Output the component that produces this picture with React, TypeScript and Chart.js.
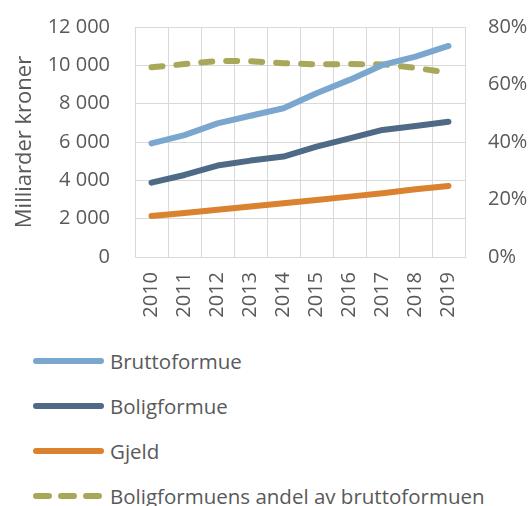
import React, { useEffect, useRef } from "react";
import { Chart, registerables } from "chart.js";

Chart.register(...registerables);

const years = ["2010", "2011", "2012", "2013", "2014", "2015", "2016", "2017", "2018", "2019"];
const bruttoformue = [5930, 6360, 6970, 7370, 7760, 8540, 9240, 10020, 10450, 11010];
const boligformue = [3880, 4280, 4770, 5030, 5240, 5760, 6190, 6630, 6840, 7060];
const gjeld = [2140, 2300, 2470, 2630, 2800, 2970, 3150, 3330, 3530, 3710];
const andel = [66.0, 67.1, 68.2, 68.1, 67.4, 67.0, 67.1, 67.0, 65.8, 64.1];

const leftTicks = [0, 2000, 4000, 6000, 8000, 10000, 12000];
const rightTicks = [0, 20, 40, 60, 80];

const seriesNames = ["Bruttoformue", "Boligformue", "Gjeld", "Boligformuens andel av bruttoformuen"];
const seriesColors = ["#7BA7CF", "#4F6A86", "#DA822F", "#A8A85A"];

const FONT = "'Open Sans', sans-serif";
const TEXT = "#595959";
const GRID = "#D9D9D9";

function fmt(v: number): string {
  return String(v).replace(/\B(?=(\d{3})+(?!\d))/g, " ");
}

export default function App() {
  const ref = useRef<HTMLCanvasElement | null>(null);

  useEffect(() => {
    if (!ref.current) return;
    const values = [bruttoformue, boligformue, gjeld, andel];
    const chart = new Chart(ref.current, {
      type: "line",
      data: {
        labels: years,
        datasets: values.map((d, i) => ({
          label: seriesNames[i],
          data: d,
          borderColor: seriesColors[i],
          backgroundColor: seriesColors[i],
          borderWidth: 6,
          borderCapStyle: "round",
          borderJoinStyle: "round",
          borderDash: i === 3 ? [11, 14] : [],
          pointRadius: 0,
          tension: 0,
          fill: false,
          yAxisID: i === 3 ? "y1" : "y",
        })),
      },
      options: {
        animation: false,
        responsive: false,
        maintainAspectRatio: false,
        layout: { padding: { top: 27, left: 0, right: 0, bottom: 0 } },
        plugins: { legend: { display: false }, tooltip: { enabled: false } },
        scales: {
          x: {
            offset: true,
            grid: { offset: true, color: GRID, lineWidth: 1, drawTicks: false },
            border: { color: GRID, width: 1 },
            ticks: {
              color: TEXT,
              font: { family: FONT, size: 20 },
              minRotation: 90,
              maxRotation: 90,
              padding: 15,
              autoSkip: false,
            },
            afterFit: (s: any) => {
              s.height = 73;
              s.paddingLeft = 0;
              s.paddingRight = 0;
            },
          },
          y: {
            position: "left",
            min: 0,
            max: 12000,
            afterBuildTicks: (s: any) => {
              s.ticks = leftTicks.map((v) => ({ value: v }));
            },
            grid: { color: GRID, lineWidth: 1, drawTicks: false },
            border: { color: GRID, width: 1 },
            ticks: {
              color: TEXT,
              font: { family: FONT, size: 20 },
              padding: 25,
              callback: (v: any) => fmt(Number(v)),
            },
            title: {
              display: true,
              text: "Milliarder kroner",
              color: TEXT,
              font: { family: FONT, size: 22 },
              padding: { top: 12, bottom: 0 },
            },
            afterFit: (s: any) => {
              s.width = 135;
              s.paddingTop = 0;
              s.paddingBottom = 0;
            },
          },
          y1: {
            position: "right",
            min: 0,
            max: 80,
            afterBuildTicks: (s: any) => {
              s.ticks = rightTicks.map((v) => ({ value: v }));
            },
            grid: { drawOnChartArea: false, drawTicks: false },
            border: { color: GRID, width: 1 },
            ticks: {
              color: TEXT,
              font: { family: FONT, size: 20 },
              padding: 23,
              callback: (v: any) => `${v}%`,
            },
            afterFit: (s: any) => {
              s.width = 67;
              s.paddingTop = 0;
              s.paddingBottom = 0;
            },
          },
        },
      },
    } as any);
    return () => chart.destroy();
  }, []);

  const rowCenters = [361, 406, 451, 496];

  return (
    <div style={{ position: "fixed", left: 0, top: 0, width: 532, height: 506, background: "#fff", overflow: "hidden" }}>
      <canvas ref={ref} width={532} height={330} style={{ position: "absolute", left: 0, top: 0, width: 532, height: 330 }} />
      {seriesNames.map((name, i) => (
        <div
          key={name}
          style={{
            position: "absolute",
            left: 0,
            top: rowCenters[i] - 15,
            height: 30,
            display: "flex",
            alignItems: "center",
            fontFamily: FONT,
            fontSize: 20.5,
            color: TEXT,
            whiteSpace: "nowrap",
          }}
        >
          <svg width={110} height={30} style={{ display: "block" }}>
            <line
              x1={36}
              y1={15}
              x2={101}
              y2={15}
              stroke={seriesColors[i]}
              strokeWidth={6}
              strokeLinecap="round"
              strokeDasharray={i === 3 ? "13 12" : undefined}
            />
          </svg>
          <span>{name}</span>
        </div>
      ))}
    </div>
  );
}
